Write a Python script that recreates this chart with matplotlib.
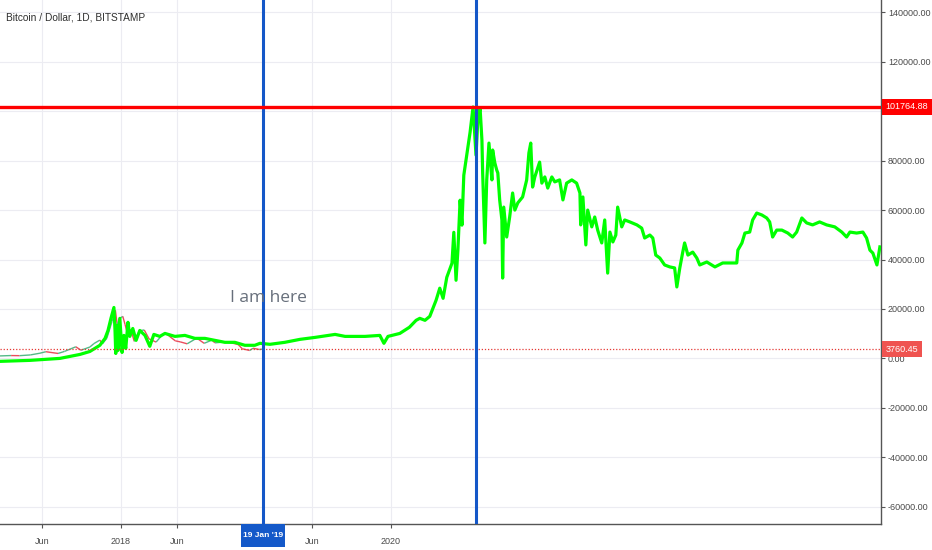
import matplotlib
matplotlib.use("Agg")
import matplotlib.pyplot as plt
import matplotlib.dates as mdates
import matplotlib.transforms as mtransforms
from matplotlib.collections import LineCollection
from matplotlib.patches import Rectangle
from matplotlib.ticker import FuncFormatter
import numpy as np

# thick green projection path
proj_dates = [
    "2017-02-08", "2017-04-30", "2017-07-20", "2017-09-12", "2017-10-09", "2017-11-05",
    "2017-11-19", "2017-11-27", "2017-12-05", "2017-12-13", "2017-12-16", "2017-12-18",
    "2017-12-21", "2017-12-24", "2017-12-29", "2018-01-04", "2018-01-09", "2018-01-14",
    "2018-01-20", "2018-01-25", "2018-02-02", "2018-02-11", "2018-02-21", "2018-03-07",
    "2018-03-20", "2018-03-31", "2018-04-16", "2018-04-30", "2018-05-27", "2018-06-23",
    "2018-07-20", "2018-08-16", "2018-09-12", "2018-10-09", "2018-11-05", "2018-12-02",
    "2018-12-29", "2019-01-12", "2019-02-08", "2019-03-20", "2019-04-30", "2019-06-10",
    "2019-08-03", "2019-08-30", "2019-10-23", "2019-12-02", "2019-12-13", "2019-12-24",
    "2020-01-25", "2020-02-20", "2020-03-09", "2020-03-19", "2020-04-02", "2020-04-15",
    "2020-05-02", "2020-05-12", "2020-05-21", "2020-05-31", "2020-06-14", "2020-06-19",
    "2020-06-25", "2020-06-30", "2020-07-06", "2020-07-11", "2020-07-16", "2020-07-24",
    "2020-08-02", "2020-08-10", "2020-08-18", "2020-08-23", "2020-08-29", "2020-09-03",
    "2020-09-05", "2020-09-11", "2020-09-16", "2020-09-22", "2020-09-30", "2020-10-02",
    "2020-10-08", "2020-10-13", "2020-10-16", "2020-10-21", "2020-10-27", "2020-10-29",
    "2020-11-01", "2020-11-09", "2020-11-17", "2020-11-25", "2020-12-01", "2020-12-09",
    "2020-12-22", "2021-01-02", "2021-01-08", "2021-01-13", "2021-01-18", "2021-01-24",
    "2021-02-06", "2021-02-12", "2021-02-20", "2021-02-28", "2021-03-11", "2021-03-19",
    "2021-04-01", "2021-04-10", "2021-04-20", "2021-05-04", "2021-05-17", "2021-05-26",
    "2021-05-28", "2021-06-03", "2021-06-11", "2021-06-16", "2021-06-27", "2021-07-05",
    "2021-07-13", "2021-07-24", "2021-08-01", "2021-08-09", "2021-08-15", "2021-08-23",
    "2021-08-31", "2021-09-05", "2021-09-16", "2021-09-24", "2021-10-08", "2021-10-27",
    "2021-11-09", "2021-11-17", "2021-12-01", "2021-12-09", "2021-12-17", "2021-12-28",
    "2022-01-10", "2022-01-24", "2022-02-06", "2022-02-12", "2022-02-20", "2022-02-28",
    "2022-03-05", "2022-03-14", "2022-03-27", "2022-04-07", "2022-04-15", "2022-05-04",
    "2022-05-26", "2022-06-16", "2022-07-13", "2022-07-24", "2022-07-27", "2022-08-07",
    "2022-08-15", "2022-08-28", "2022-09-05", "2022-09-16", "2022-09-30", "2022-10-13",
    "2022-10-21", "2022-10-29", "2022-11-09", "2022-11-23", "2022-12-09", "2022-12-22",
    "2023-01-02", "2023-01-16", "2023-01-29", "2023-02-14", "2023-03-05", "2023-03-24",
    "2023-04-15", "2023-05-04", "2023-05-17", "2023-05-26", "2023-06-13", "2023-06-30",
    "2023-07-10", "2023-07-19", "2023-07-27", "2023-08-07", "2023-08-15",
]
proj_prices = [
    -1200, -800, 0, 1600, 2800, 5300,
    8100, 11300, 16200, 20600, 11300, 2000,
    13400, 3200, 16200, 2400, 9300, 4000,
    14600, 8900, 12100, 7300, 11300, 9300,
    4900, 9700, 8900, 10100, 8900, 9300,
    8100, 8100, 7300, 6500, 6500, 5300,
    5300, 6100, 5700, 6500, 7700, 8500,
    9700, 8900, 8900, 9300, 6100, 8900,
    10100, 12600, 15400, 16200, 15400, 17000,
    23500, 28400, 24300, 32800, 38500, 51000,
    31600, 43700, 64000, 53900, 74100, 82200,
    91500, 101700, 82200, 96400, 101300, 88300,
    75000, 46700, 72200, 87100, 72200, 84300,
    79000, 76200, 75000, 64100, 56000, 32500,
    61200, 49100, 57200, 66900, 60000, 62900,
    65300, 72200, 83100, 87100, 69300, 73400,
    79400, 70900, 73400, 68900, 73400, 71400,
    72200, 64100, 70900, 72200, 70900, 66900,
    54000, 65300, 45900, 60000, 53200, 57200,
    51900, 46700, 56000, 34500, 51100, 47100,
    49900, 61200, 53200, 56000, 55200, 54000,
    52700, 48700, 49900, 48700, 41800, 40600,
    37800, 37000, 36600, 28900, 36600, 43000,
    46700, 41800, 43000, 40600, 37800, 39000,
    37000, 38600, 38600, 38600, 43800, 46700,
    50700, 51100, 56000, 58800, 58000, 56800,
    55200, 49100, 51900, 51900, 50700, 49100,
    51100, 56800, 54800, 54000, 55200, 54000,
    53200, 51100, 49100, 51100, 50700, 51100,
    48700, 43800, 42600, 37800, 45100,
]

# thin BITSTAMP price trace
hist_dates = [
    "2017-02-08", "2017-03-10", "2017-04-02", "2017-05-01", "2017-05-27", "2017-06-12",
    "2017-07-15", "2017-08-01", "2017-09-01", "2017-09-15", "2017-10-09", "2017-10-20",
    "2017-11-05", "2017-11-12", "2017-11-24", "2017-12-08", "2017-12-17", "2017-12-22",
    "2017-12-27", "2018-01-06", "2018-01-12", "2018-01-17", "2018-01-28", "2018-02-06",
    "2018-02-20", "2018-03-05", "2018-03-18", "2018-04-06", "2018-04-24", "2018-05-05",
    "2018-05-28", "2018-06-10", "2018-06-29", "2018-07-25", "2018-08-14", "2018-09-04",
    "2018-09-12", "2018-10-15", "2018-11-14", "2018-11-25", "2018-12-15", "2018-12-24",
    "2019-01-10", "2019-01-19",
]
hist_prices = [
    1000, 1150, 1100, 1400, 2100, 2700,
    2000, 2800, 4700, 3300, 4600, 6000,
    7400, 5900, 8200, 15000, 19400, 13500,
    16000, 17000, 13800, 10900, 11600, 6900,
    11200, 11500, 7900, 6600, 9700, 9800,
    7100, 6700, 5900, 8200, 6100, 7400,
    6300, 6700, 5600, 3900, 3200, 4100,
    3600, 3760.45,
]

last_price = 3760.45
target_price = 101764.88
marker_dates = ["2019-01-19", "2020-08-18"]
marker_label = "19 Jan '19"

x_tick_dates = ["2017-06-01", "2018-01-01", "2018-06-01", "2019-06-01", "2020-01-01"]
x_tick_labels = ["Jun", "2018", "Jun", "Jun", "2020"]
y_ticks = [-60000, -40000, -20000, 0, 20000, 40000, 60000, 80000, 100000, 120000, 140000]

note_date = "2019-02-05"
note_price = 24300


def to_num(dates):
    return mdates.date2num(np.array(dates, dtype="datetime64[D]"))


def price_fmt(v, pos):
    # the scale hides a tick label sitting under the target price tag
    if abs(v - target_price) < 5000:
        return ""
    return f"{v:.2f}"


sans = ["Liberation Sans", "DejaVu Sans"]
axis_grey = "#555555"
text_grey = "#4a4a4a"
small = 6.5

fig = plt.figure(figsize=(9.32, 5.5), dpi=100)
ax = fig.add_axes([0, 26 / 550, 881 / 932, 524 / 550])

ax.set_xlim(to_num(["2017-02-08"])[0], to_num(["2023-08-18"])[0])
ax.set_ylim(-66990, 144975)

# grid + axes look
ax.set_xticks(to_num(x_tick_dates))
ax.set_xticklabels(x_tick_labels)
ax.set_yticks(y_ticks)
ax.yaxis.set_major_formatter(FuncFormatter(price_fmt))
ax.yaxis.tick_right()
ax.grid(color="#ececf2", linewidth=0.8, zorder=0)
ax.set_axisbelow(True)
for side in ["top", "left"]:
    ax.spines[side].set_visible(False)
for side in ["bottom", "right"]:
    ax.spines[side].set_color(axis_grey)
    ax.spines[side].set_linewidth(1.0)
ax.tick_params(axis="both", colors=axis_grey, length=3, width=0.8, labelsize=small,
               labelcolor=text_grey)
ax.tick_params(axis="x", pad=6)
ax.tick_params(axis="y", pad=2)
for lbl in ax.get_xticklabels() + ax.get_yticklabels():
    lbl.set_family(sans)

# thin price trace, coloured by direction like candles
hx = to_num(hist_dates)
hy = np.array(hist_prices)
segs = np.stack([np.column_stack([hx[:-1], hy[:-1]]), np.column_stack([hx[1:], hy[1:]])], axis=1)
seg_colors = ["#53b987" if b >= a else "#eb4d5c" for a, b in zip(hy[:-1], hy[1:])]
ax.add_collection(LineCollection(segs, colors=seg_colors, linewidths=1.0, zorder=3))

# green projection
ax.plot(to_num(proj_dates), proj_prices, color="#00ff00", linewidth=2.3, zorder=4)

# last price dotted line
ax.axhline(last_price, color="#e53935", linewidth=0.9, linestyle=(0, (1, 1.5)), zorder=5)

# vertical markers and target line
for d in marker_dates:
    ax.axvline(to_num([d])[0], color="#1457c8", linewidth=2.2, zorder=6)
ax.axhline(target_price, color="#ff0000", linewidth=2.4, zorder=7)

# price labels on the right scale
ytrans = mtransforms.blended_transform_factory(ax.transAxes, ax.transData)
ax.text(1.0052, target_price, f"{target_price:.2f}", transform=ytrans, ha="left",
        va="center", color="white", fontsize=small, family=sans, clip_on=False, zorder=10,
        bbox=dict(boxstyle="square,pad=0.4", fc="#ff0000", ec="none"))
ax.text(1.0052, last_price, f"{last_price:.2f}", transform=ytrans, ha="left",
        va="center", color="white", fontsize=small, family=sans, clip_on=False, zorder=10,
        bbox=dict(boxstyle="square,pad=0.4", fc="#ef5350", ec="none"))

# date label on the time scale
xtrans = mtransforms.blended_transform_factory(ax.transData, ax.transAxes)
mx = to_num([marker_dates[0]])[0]
box_days = 119
ax.add_patch(Rectangle((mx - box_days / 2, -23 / 524), box_days, 23 / 524, transform=xtrans,
                       facecolor="#1459c9", edgecolor="none", clip_on=False, zorder=9))
ax.text(mx, -11.5 / 524, marker_label, transform=xtrans, ha="center", va="center",
        color="white", fontsize=6, fontweight="bold", family=sans, clip_on=False, zorder=10)

# annotations
ax.text(to_num([note_date])[0], note_price, "I am here", ha="center", va="center",
        fontsize=12.5, color="#676f7b", family=["Open Sans", "DejaVu Sans"], zorder=8)
ax.text(6 / 881, 1 - 17 / 524, "Bitcoin / Dollar, 1D, BITSTAMP", transform=ax.transAxes,
        ha="left", va="center", fontsize=7.3, color="#2f2f2f", family=sans, zorder=8)

fig.savefig("out.png", dpi=100)
